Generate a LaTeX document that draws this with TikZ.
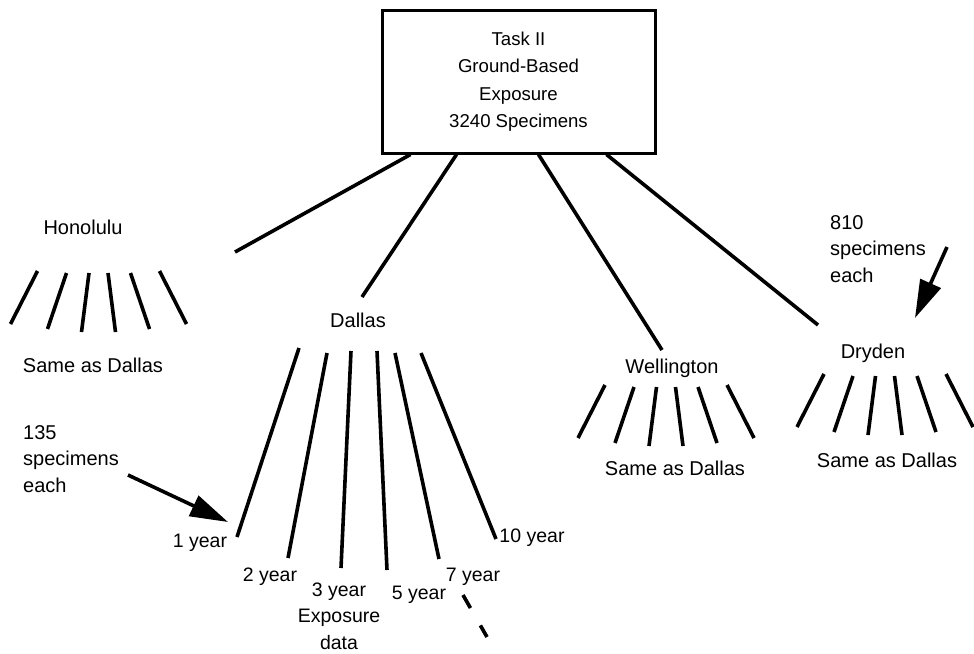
\documentclass[tikz,border=0pt]{standalone}
\usepackage{fontspec}
\setmainfont{Liberation Sans}
\usetikzlibrary{positioning, arrows.meta}

\tikzset{
  lbl/.style={inner sep=0pt, font=\fontsize{20}{26.5}\selectfont, align=center},
  yr/.style={inner sep=0pt, font=\fontsize{19.5}{26.5}\selectfont, align=center},
  bar/.style={line width=3.6pt},
  pointer/.style={line width=3.6pt, -{Triangle[length=38pt,width=22pt]}},
}

\begin{document}
\begin{tikzpicture}[x=1pt, y=-1pt]
      \useasboundingbox (0,0) rectangle (974,653);

      \node[draw, line width=3pt, minimum width=273pt, minimum height=143pt, inner sep=0pt,
            font=\fontsize{18.6}{27.5}\selectfont, align=center] (Task) at (518.5,81.5)
            {Task II\\Ground-Based\\Exposure\\3240 Specimens};

      \node[lbl] (Hon) at (83,227) {Honolulu};
      \node[lbl] (Dal) at (358,320) {Dallas};
      \node[lbl] (Wel) at (672,368) {Wellington};
      \node[lbl] (Dry) at (873,353) {Dryden};

      \node[lbl] (HonSame) at (93,365) {Same as Dallas};
      \node[lbl] (WelSame) at (675,468) {Same as Dallas};
      \node[lbl] (DrySame) at (887,460) {Same as Dallas};

      \coordinate (HonEnd) at (235,252);
      \coordinate (DalEnd) at (362,297);
      \coordinate (WelEnd) at (662,350);
      \coordinate (DryEnd) at (818,325);

      \draw[bar] ([xshift=30pt]node cs:name=Task, anchor=south west) -- (HonEnd);
      \draw[bar] ([xshift=76pt]node cs:name=Task, anchor=south west) -- (DalEnd);
      \draw[bar] ([xshift=158pt]node cs:name=Task, anchor=south west) -- (WelEnd);
      \draw[bar] ([xshift=226pt]node cs:name=Task, anchor=south west) -- (DryEnd);

      % the short fans under the other sites
      \foreach \cx/\cy in {98.5/273, 666/387, 885/376}
        \foreach \ta/\tb/\ba/\bb in {-61/-2/-88/51, -32/0/-51/56, -9.5/0/-17/59,
                                     9.5/0/17/59, 32/0/51/56, 61/-2/88/51}
          \draw[bar] (\cx+\ta,\cy+\tb) -- (\cx+\ba,\cy+\bb);

      % Dallas fan
      \foreach \xa/\ya/\xb/\yb in {299/348/237/537, 327/353/288/558, 351/351/341/568,
                                   377/351/387/570, 395/353/439/559, 421/353/496/539}
        \draw[bar] (\xa,\ya) -- (\xb,\yb);

      \node[yr] (Y1) at (200,543) {1 year};
      \node[yr] (Y2) at (270,577) {2 year};
      \node[yr] (Y3) at (339,616) {3 year\\Exposure\\data};
      \node[yr] (Y5) at (419,595) {5 year};
      \node[yr] (Y7) at (473,577) {7 year};
      \node[yr] (Y10) at (532,538) {10 year};

      \coordinate (MoreA) at (463,595);
      \coordinate (MoreB) at (487,637);
      \draw[bar, dash pattern=on 15pt off 20pt] (MoreA) -- (MoreB);

      % counts per batch
      \node[lbl, align=left, anchor=west] (Each135) at (23,459) {135\\specimens\\each};
      \node[lbl, align=left, anchor=west] (Each810) at (830,249) {810\\specimens\\each};

      \coordinate (Tip135) at (228,522);
      \coordinate (Tip810) at (915,318);
      \draw[pointer] (128,475) -- (Tip135);
      \draw[pointer] (947,247) -- (Tip810);
    \end{tikzpicture}
\end{document}
